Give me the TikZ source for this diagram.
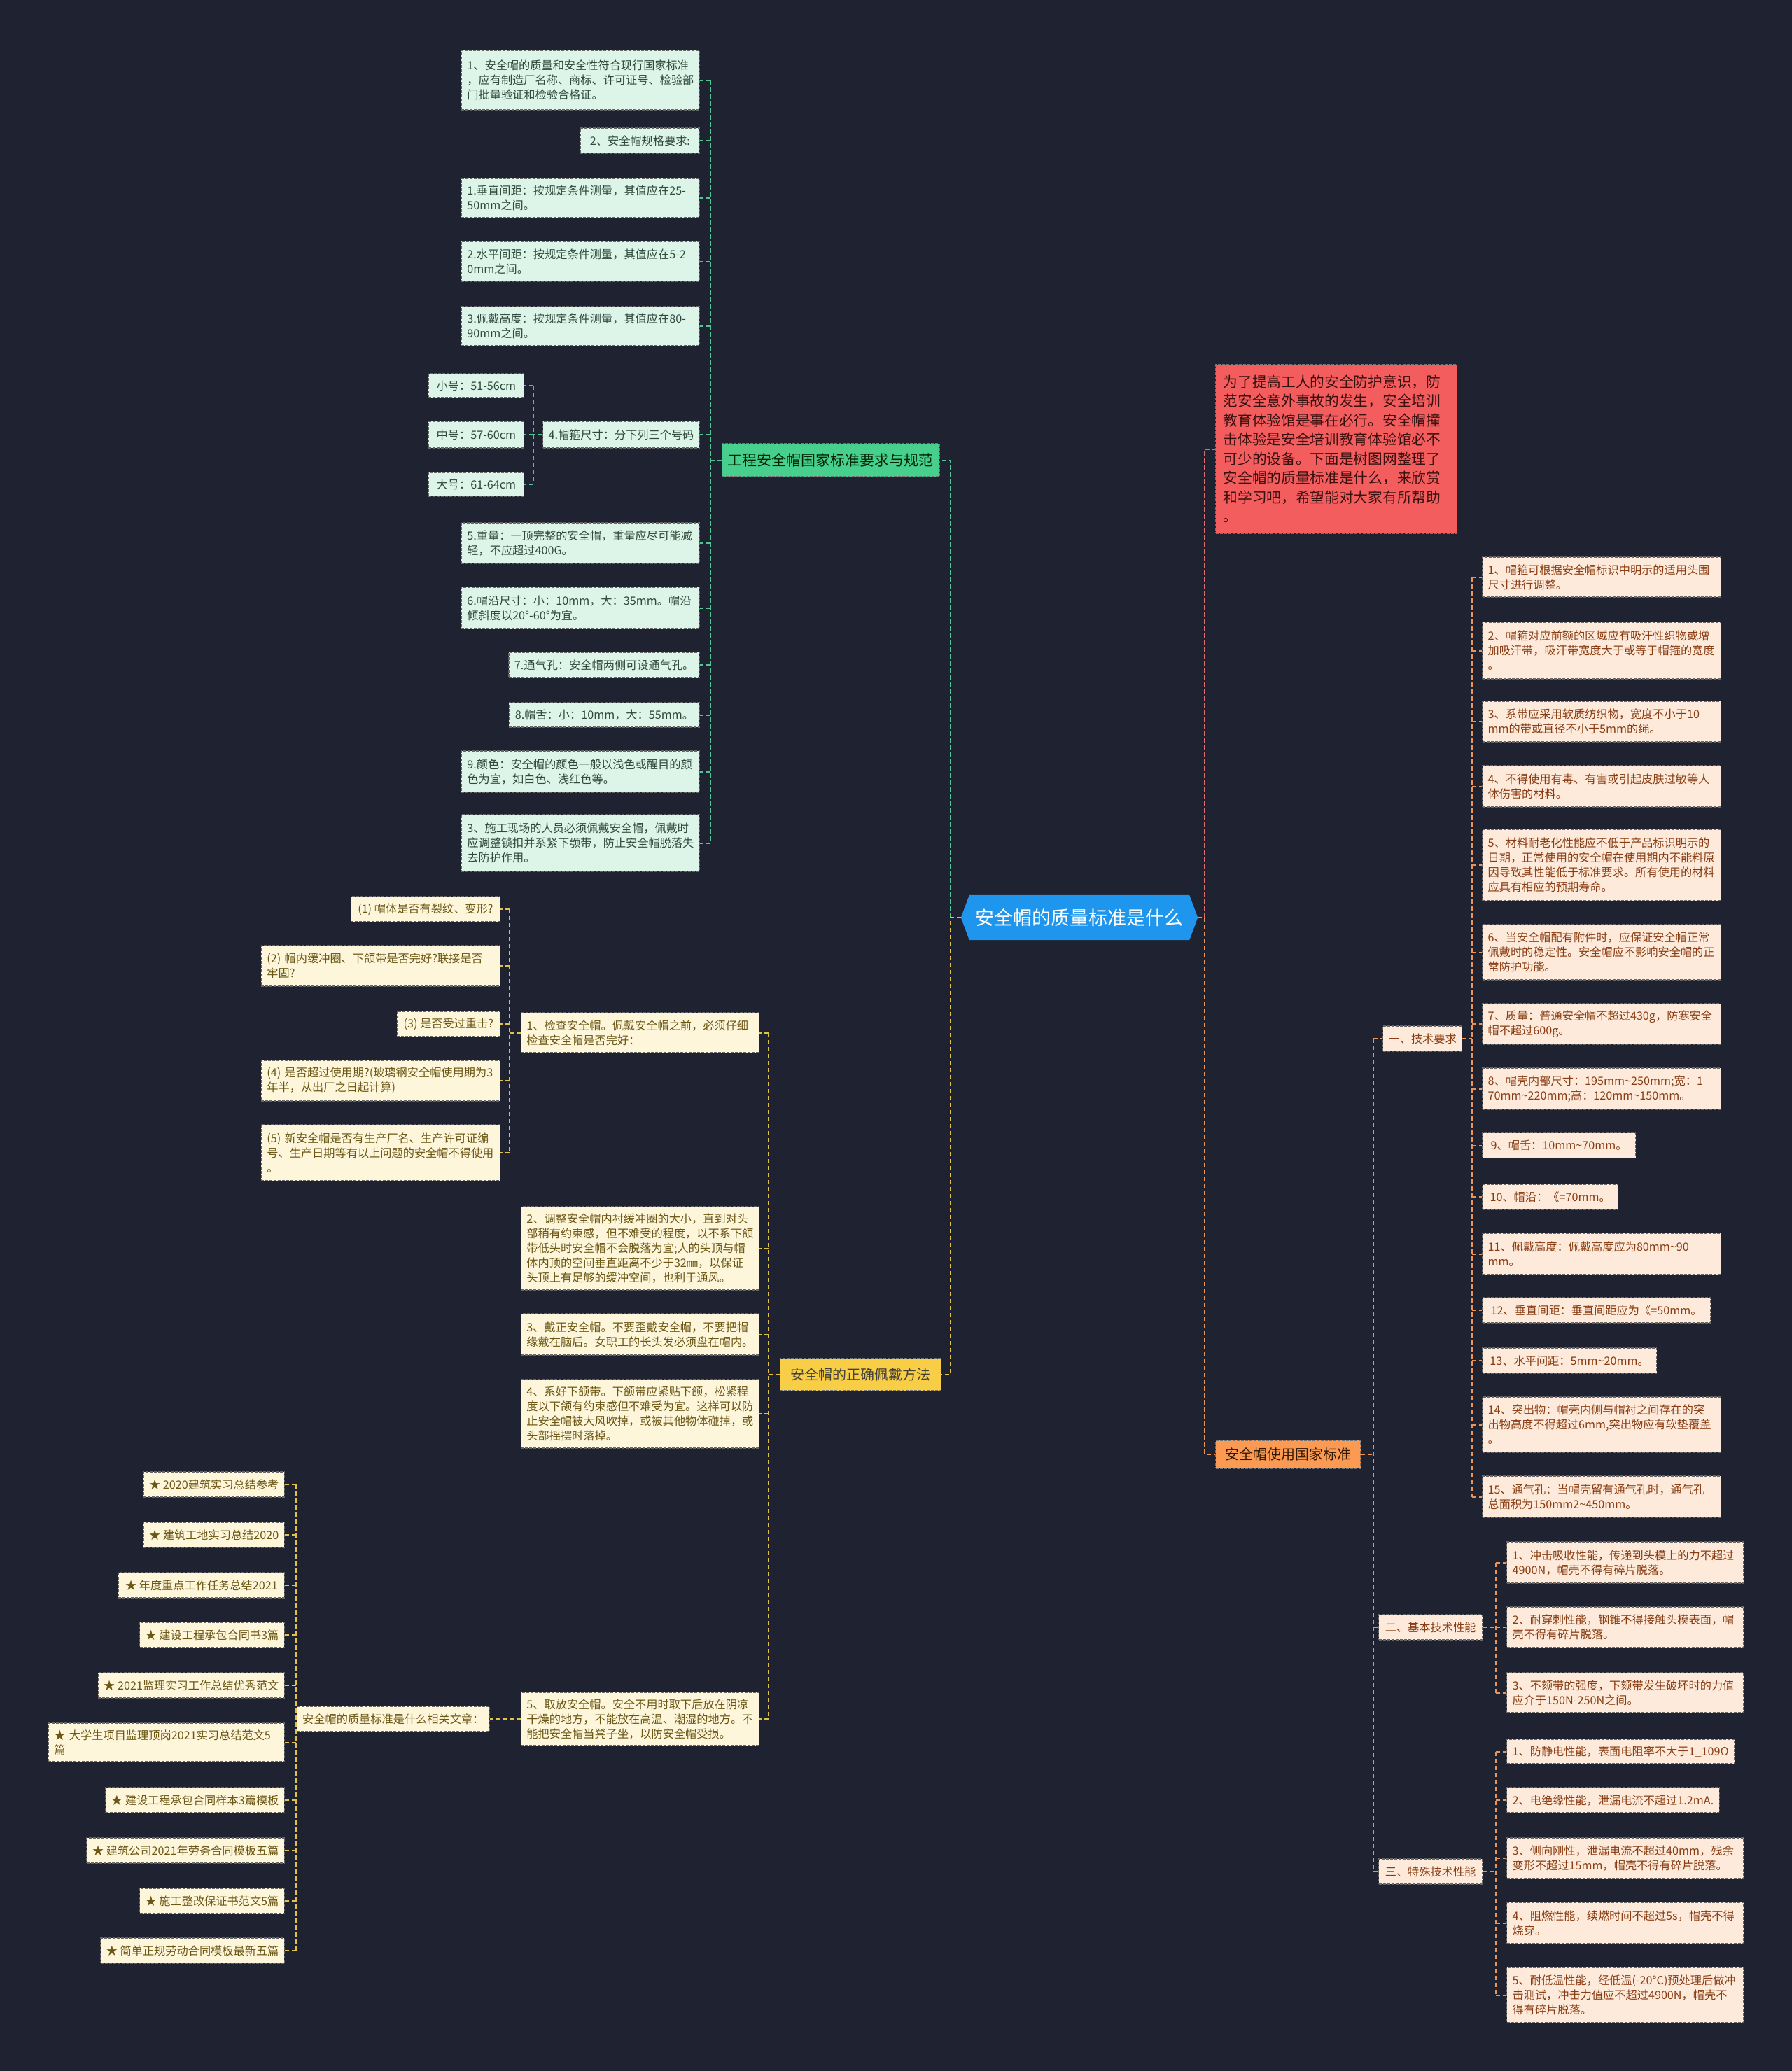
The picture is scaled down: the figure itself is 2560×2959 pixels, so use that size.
\documentclass[tikz,border=0pt]{standalone}
\usepackage{fontspec}
\setmainfont{Noto Sans CJK SC}
\definecolor{bgc}{HTML}{1F2230}
\definecolor{ctrc}{HTML}{1E96EE}
\definecolor{gmain}{HTML}{47CF8E}
\definecolor{gfill}{HTML}{DCF5E8}
\definecolor{gtext}{HTML}{2F4A3C}
\definecolor{gline}{HTML}{52C690}
\definecolor{ymain}{HTML}{F8CE46}
\definecolor{yfill}{HTML}{FDF6DA}
\definecolor{ytext}{HTML}{6B5614}
\definecolor{yline}{HTML}{E3C04A}
\definecolor{omain}{HTML}{FB9A53}
\definecolor{ofill}{HTML}{FDEADB}
\definecolor{otext}{HTML}{8A3D12}
\definecolor{oline}{HTML}{EE9356}
\definecolor{rfill}{HTML}{F45D5D}
\definecolor{rtext}{HTML}{3A1010}
\definecolor{rline}{HTML}{E46C6C}
\begin{document}
\begin{tikzpicture}[x=1pt,y=-1pt,
  leaf/.style={rectangle, draw=black!60, dash pattern=on 4pt off 2pt, line width=1.2pt,
    inner xsep=8pt, inner ysep=4pt, align=left, font=\fontsize{16.2}{21}\selectfont},
  gleaf/.style={leaf, fill=gfill, text=gtext},
  yleaf/.style={leaf, fill=yfill, text=ytext},
  oleaf/.style={leaf, fill=ofill, text=otext},
  mainbox/.style={rectangle, draw=black!55, dash pattern=on 4pt off 2pt, line width=1.2pt,
    inner xsep=8pt, inner ysep=4pt, align=center},
  con/.style={line width=2pt, dash pattern=on 6pt off 4pt},
  conG/.style={con, draw=gline},
  conY/.style={con, draw=yline},
  conO/.style={con, draw=oline},
  conR/.style={con, draw=rline}]
\fill[bgc] (0,0) rectangle (2560,2959);
\useasboundingbox (0,0) rectangle (2560,2959);

% ---------- centre ----------
\node[minimum width=338, minimum height=64, inner sep=0] (ctr) at (1542,1311) {};
\fill[ctrc] (ctr.west) -- ([xshift=12pt]ctr.north west) -- ([xshift=-12pt]ctr.north east)
  -- (ctr.east) -- ([xshift=-12pt]ctr.south east) -- ([xshift=12pt]ctr.south west) -- cycle;
\node[text=white, font=\fontsize{27}{32}\selectfont, inner sep=0] (ctrt) at (ctr.center) {安全帽的质量标准是什么};

% ---------- main branches ----------
\node[mainbox, fill=gmain, text=black!85!green, font=\fontsize{21}{26}\selectfont,
  minimum width=311, minimum height=47, anchor=east] (gm) at (1343,657.5) {工程安全帽国家标准要求与规范};
\node[mainbox, fill=ymain, text=black!85!yellow, font=\fontsize{20}{25}\selectfont,
  minimum width=230, minimum height=46, anchor=east] (ym) at (1345,1964) {安全帽的正确佩戴方法};
\node[mainbox, fill=omain, text=black!80!orange, font=\fontsize{20}{25}\selectfont,
  minimum width=207, minimum height=40, anchor=west] (om) at (1736,2078) {安全帽使用国家标准};
\node[rectangle, draw=black!55, dash pattern=on 4pt off 2pt, line width=1.2pt, fill=rfill, text=rtext,
  align=left, inner xsep=11pt, text width=323pt, font=\fontsize{20.7}{27.5}\selectfont,
  minimum height=241, anchor=west] (red) at (1736,641.5)
  {为了提高工人的安全防护意识，防\\范安全意外事故的发生，安全培训\\教育体验馆是事在必行。安全帽撞\\击体验是安全培训教育体验馆必不\\可少的设备。下面是树图网整理了\\安全帽的质量标准是什么，来欣赏\\和学习吧，希望能对大家有所帮助\\。};

% ---------- green leaves ----------
\node[gleaf, text width=324pt, minimum height=85, anchor=east] (g1) at (1000,114.5)
  {1、安全帽的质量和安全性符合现行国家标准\\，应有制造厂名称、商标、许可证号、检验部\\门批量验证和检验合格证。};
\node[gleaf, minimum width=170, minimum height=36, anchor=east] (g2) at (1000,201) {2、安全帽规格要求:};
\node[gleaf, text width=324pt, minimum height=56, anchor=east] (g3) at (1000,283) {1.垂直间距：按规定条件测量，其值应在25-\\50mm之间。};
\node[gleaf, text width=324pt, minimum height=57, anchor=east] (g4) at (1000,373.5) {2.水平间距：按规定条件测量，其值应在5-2\\0mm之间。};
\node[gleaf, text width=324pt, minimum height=56, anchor=east] (g5) at (1000,466) {3.佩戴高度：按规定条件测量，其值应在80-\\90mm之间。};
\node[gleaf, minimum width=223, minimum height=38, anchor=east] (g6) at (1000,621) {4.帽箍尺寸：分下列三个号码};
\node[gleaf, minimum width=136, minimum height=34, anchor=east] (s1) at (749,551) {小号：51-56cm};
\node[gleaf, minimum width=136, minimum height=38, anchor=east] (s2) at (749,621) {中号：57-60cm};
\node[gleaf, minimum width=136, minimum height=34, anchor=east] (s3) at (749,692) {大号：61-64cm};
\node[gleaf, text width=324pt, minimum height=58, anchor=east] (g7) at (1000,776) {5.重量：一顶完整的安全帽，重量应尽可能减\\轻，不应超过400G。};
\node[gleaf, text width=324pt, minimum height=59, anchor=east] (g8) at (1000,868.5) {6.帽沿尺寸：小：10mm，大：35mm。帽沿\\倾斜度以20°-60°为宜。};
\node[gleaf, minimum width=272, minimum height=36, anchor=east] (g9) at (1000,950) {7.通气孔：安全帽两侧可设通气孔。};
\node[gleaf, minimum width=272, minimum height=35, anchor=east] (g10) at (1000,1021.5) {8.帽舌：小：10mm，大：55mm。};
\node[gleaf, text width=324pt, minimum height=59, anchor=east] (g11) at (1000,1102.5) {9.颜色：安全帽的颜色一般以浅色或醒目的颜\\色为宜，如白色、浅红色等。};
\node[gleaf, text width=324pt, minimum height=81, anchor=east] (g12) at (1000,1204.5) {3、施工现场的人员必须佩戴安全帽，佩戴时\\应调整锁扣并系紧下颚带，防止安全帽脱落失\\去防护作用。};

% ---------- yellow leaves ----------
\node[yleaf, text width=324pt, minimum height=57, anchor=east] (y1) at (1085,1475.5) {1、检查安全帽。佩戴安全帽之前，必须仔细\\检查安全帽是否完好：};
\node[yleaf, text width=324pt, minimum height=119, anchor=east] (y2) at (1085,1783.5) {2、调整安全帽内衬缓冲圈的大小，直到对头\\部稍有约束感，但不难受的程度，以不系下颌\\带低头时安全帽不会脱落为宜;人的头顶与帽\\体内顶的空间垂直距离不少于32㎜，以保证\\头顶上有足够的缓冲空间，也利于通风。};
\node[yleaf, text width=324pt, minimum height=59, anchor=east] (y3) at (1085,1906.5) {3、戴正安全帽。不要歪戴安全帽，不要把帽\\缘戴在脑后。女职工的长头发必须盘在帽内。};
\node[yleaf, text width=324pt, minimum height=98, anchor=east] (y4) at (1085,2020) {4、系好下颌带。下颌带应紧贴下颌，松紧程\\度以下颌有约束感但不难受为宜。这样可以防\\止安全帽被大风吹掉，或被其他物体碰掉，或\\头部摇摆时落掉。};
\node[yleaf, text width=324pt, minimum height=76, anchor=east] (y5) at (1085,2456) {5、取放安全帽。安全不用时取下后放在阴凉\\干燥的地方，不能放在高温、潮湿的地方。不\\能把安全帽当凳子坐，以防安全帽受损。};
\node[yleaf, minimum width=213, minimum height=36, anchor=east] (q1) at (715,1299) {(1) 帽体是否有裂纹、变形?};
\node[yleaf, text width=325pt, minimum height=58, anchor=east] (q2) at (715,1380) {(2) 帽内缓冲圈、下颌带是否完好?联接是否\\牢固?};
\node[yleaf, minimum width=147, minimum height=36, anchor=east] (q3) at (715,1463) {(3) 是否受过重击?};
\node[yleaf, text width=325pt, minimum height=58, anchor=east] (q4) at (715,1544) {(4) 是否超过使用期?(玻璃钢安全帽使用期为3\\年半，从出厂之日起计算)};
\node[yleaf, text width=325pt, minimum height=80, anchor=east] (q5) at (715,1647) {(5) 新安全帽是否有生产厂名、生产许可证编\\号、生产日期等有以上问题的安全帽不得使用\\。};
\node[yleaf, minimum width=262, minimum height=36, anchor=east] (rel) at (700,2456) {安全帽的质量标准是什么相关文章：};
\node[yleaf, minimum width=198, minimum height=36, anchor=east] (r1) at (407,2121) {★ 2020建筑实习总结参考};
\node[yleaf, minimum width=198, minimum height=36, anchor=east] (r2) at (407,2193) {★ 建筑工地实习总结2020};
\node[yleaf, minimum width=237, minimum height=36, anchor=east] (r3) at (407,2265) {★ 年度重点工作任务总结2021};
\node[yleaf, minimum width=203, minimum height=36, anchor=east] (r4) at (407,2336) {★ 建设工程承包合同书3篇};
\node[yleaf, minimum width=266, minimum height=36, anchor=east] (r5) at (407,2408) {★ 2021监理实习工作总结优秀范文};
\node[yleaf, text width=321pt, minimum height=55, anchor=east] (r6) at (407,2489.5) {★ 大学生项目监理顶岗2021实习总结范文5\\篇};
\node[yleaf, minimum width=250, minimum height=36, anchor=east] (r7) at (407,2572) {★ 建设工程承包合同样本3篇模板};
\node[yleaf, minimum width=281, minimum height=36, anchor=east] (r8) at (407,2644) {★ 建筑公司2021年劳务合同模板五篇};
\node[yleaf, minimum width=203, minimum height=36, anchor=east] (r9) at (407,2716) {★ 施工整改保证书范文5篇};
\node[yleaf, minimum width=256, minimum height=36, anchor=east] (r10) at (407,2787) {★ 简单正规劳动合同模板最新五篇};

% ---------- orange leaves ----------
\node[oleaf, minimum width=113, minimum height=36, anchor=west] (o1) at (1975,1484) {一、技术要求};
\node[oleaf, minimum width=148, minimum height=36, anchor=west] (o2) at (1969,2325) {二、基本技术性能};
\node[oleaf, minimum width=148, minimum height=36, anchor=west] (o3) at (1969,2674) {三、特殊技术性能};

\node[oleaf, text width=325pt, minimum height=57, anchor=west] (t1) at (2117,824.5) {1、帽箍可根据安全帽标识中明示的适用头围\\尺寸进行调整。};
\node[oleaf, text width=325pt, minimum height=81, anchor=west] (t2) at (2117,929.5) {2、帽箍对应前额的区域应有吸汗性织物或增\\加吸汗带，吸汗带宽度大于或等于帽箍的宽度\\。};
\node[oleaf, text width=325pt, minimum height=58, anchor=west] (t3) at (2117,1031) {3、系带应采用软质纺织物，宽度不小于10\\mm的带或直径不小于5mm的绳。};
\node[oleaf, text width=325pt, minimum height=59, anchor=west] (t4) at (2117,1123.5) {4、不得使用有毒、有害或引起皮肤过敏等人\\体伤害的材料。};
\node[oleaf, text width=325pt, minimum height=102, anchor=west] (t5) at (2117,1236) {5、材料耐老化性能应不低于产品标识明示的\\日期，正常使用的安全帽在使用期内不能料原\\因导致其性能低于标准要求。所有使用的材料\\应具有相应的预期寿命。};
\node[oleaf, text width=325pt, minimum height=79, anchor=west] (t6) at (2117,1360.5) {6、当安全帽配有附件时，应保证安全帽正常\\佩戴时的稳定性。安全帽应不影响安全帽的正\\常防护功能。};
\node[oleaf, text width=325pt, minimum height=58, anchor=west] (t7) at (2117,1463) {7、质量：普通安全帽不超过430g，防寒安全\\帽不超过600g。};
\node[oleaf, text width=325pt, minimum height=59, anchor=west] (t8) at (2117,1555.5) {8、帽壳内部尺寸：195mm\textasciitilde 250mm;宽：1\\70mm\textasciitilde 220mm;高：120mm\textasciitilde 150mm。};
\node[oleaf, minimum width=219, minimum height=36, anchor=west] (t9) at (2117,1636.5) {9、帽舌：10mm\textasciitilde 70mm。};
\node[oleaf, minimum width=194, minimum height=36, anchor=west] (t10) at (2117,1710) {10、帽沿：《=70mm。};
\node[oleaf, text width=325pt, minimum height=59, anchor=west] (t11) at (2117,1791.5) {11、佩戴高度：佩戴高度应为80mm\textasciitilde 90\\mm。};
\node[oleaf, minimum width=326, minimum height=36, anchor=west] (t12) at (2117,1872) {12、垂直间距：垂直间距应为《=50mm。};
\node[oleaf, minimum width=249, minimum height=36, anchor=west] (t13) at (2117,1944) {13、水平间距：5mm\textasciitilde 20mm。};
\node[oleaf, text width=325pt, minimum height=79, anchor=west] (t14) at (2117,2035.5) {14、突出物：帽壳内侧与帽衬之间存在的突\\出物高度不得超过6mm,突出物应有软垫覆盖\\。};
\node[oleaf, text width=325pt, minimum height=59, anchor=west] (t15) at (2117,2138.5) {15、通气孔：当帽壳留有通气孔时，通气孔\\总面积为150mm2\textasciitilde 450mm。};

\node[oleaf, text width=322pt, minimum height=59, anchor=west] (b1) at (2152,2232.5) {1、冲击吸收性能，传递到头模上的力不超过\\4900N，帽壳不得有碎片脱落。};
\node[oleaf, text width=322pt, minimum height=58, anchor=west] (b2) at (2152,2325) {2、耐穿刺性能，钢锥不得接触头模表面，帽\\壳不得有碎片脱落。};
\node[oleaf, text width=322pt, minimum height=57, anchor=west] (b3) at (2152,2418.5) {3、不颏带的强度，下颏带发生破坏时的力值\\应介于150N-250N之间。};

\node[oleaf, minimum width=323, minimum height=35, anchor=west] (c1) at (2152,2502.5) {1、防静电性能，表面电阻率不大于1\_109Ω};
\node[oleaf, minimum width=282, minimum height=36, anchor=west] (c2) at (2152,2572) {2、电绝缘性能，泄漏电流不超过1.2mA.};
\node[oleaf, text width=322pt, minimum height=58, anchor=west] (c3) at (2152,2655) {3、侧向刚性，泄漏电流不超过40mm，残余\\变形不超过15mm，帽壳不得有碎片脱落。};
\node[oleaf, text width=322pt, minimum height=59, anchor=west] (c4) at (2152,2747.5) {4、阻燃性能，续燃时间不超过5s，帽壳不得\\烧穿。};
\node[oleaf, text width=322pt, minimum height=79, anchor=west] (c5) at (2152,2850.5) {5、耐低温性能，经低温(-20°C)预处理后做冲\\击测试，冲击力值应不超过4900N，帽壳不\\得有碎片脱落。};

% ---------- trunk coordinates ----------
\coordinate (cL) at (1358,1311);
\coordinate (cR) at (1721,1311);
\coordinate (gT) at (1015,0);
\coordinate (sT) at (762,0);
\coordinate (yT) at (1098,0);
\coordinate (qT) at (728,0);
\coordinate (rT) at (423,0);
\coordinate (oT) at (1962,0);
\coordinate (tT) at (2103,0);
\coordinate (bT) at (2137,0);

% ---------- connectors ----------
\draw[conG] (cL) |- (gm.east);
\draw[conY] (ctr.west) -- (cL) |- (ym.east);
\draw[conR] (cR) |- (red.west);
\draw[conO] (ctr.east) -- (cR) |- (om.west);

\draw[conG] (gm.west) -- (gm.west -| gT);
\draw[conG] (gT |- g1.east) -- (gT |- g12.east);
\foreach \n in {g1,g2,g3,g4,g5,g6,g7,g8,g9,g10,g11,g12} \draw[conG] (gT |- \n.east) -- (\n.east);
\draw[conG] (g6.west) -- (g6.west -| sT);
\draw[conG] (sT |- s1.east) -- (sT |- s3.east);
\foreach \n in {s1,s2,s3} \draw[conG] (sT |- \n.east) -- (\n.east);

\draw[conY] (ym.west) -- (ym.west -| yT);
\draw[conY] (yT |- y1.east) -- (yT |- y5.east);
\foreach \n in {y1,y2,y3,y4,y5} \draw[conY] (yT |- \n.east) -- (\n.east);
\draw[conY] (y1.west) -- (y1.west -| qT);
\draw[conY] (qT |- q1.east) -- (qT |- q5.east);
\foreach \n in {q1,q2,q3,q4,q5} \draw[conY] (qT |- \n.east) -- (\n.east);
\draw[conY] (y5.west) -- (rel.east);
\draw[conY] (rel.west) -- (rel.west -| rT);
\draw[conY] (rT |- r1.east) -- (rT |- r10.east);
\foreach \n in {r1,r2,r3,r4,r5,r6,r7,r8,r9,r10} \draw[conY] (rT |- \n.east) -- (\n.east);

\draw[conO] (om.east) -- (om.east -| oT);
\draw[conO] (oT |- o1.west) -- (oT |- o3.west);
\foreach \n in {o1,o2,o3} \draw[conO] (oT |- \n.west) -- (\n.west);
\draw[conO] (o1.east) -- (o1.east -| tT);
\draw[conO] (tT |- t1.west) -- (tT |- t15.west);
\foreach \n in {t1,t2,t3,t4,t5,t6,t7,t8,t9,t10,t11,t12,t13,t14,t15} \draw[conO] (tT |- \n.west) -- (\n.west);
\draw[conO] (o2.east) -- (o2.east -| bT);
\draw[conO] (bT |- b1.west) -- (bT |- b3.west);
\foreach \n in {b1,b2,b3} \draw[conO] (bT |- \n.west) -- (\n.west);
\draw[conO] (o3.east) -- (o3.east -| bT);
\draw[conO] (bT |- c1.west) -- (bT |- c5.west);
\foreach \n in {c1,c2,c3,c4,c5} \draw[conO] (bT |- \n.west) -- (\n.west);
\end{tikzpicture}
\end{document}
